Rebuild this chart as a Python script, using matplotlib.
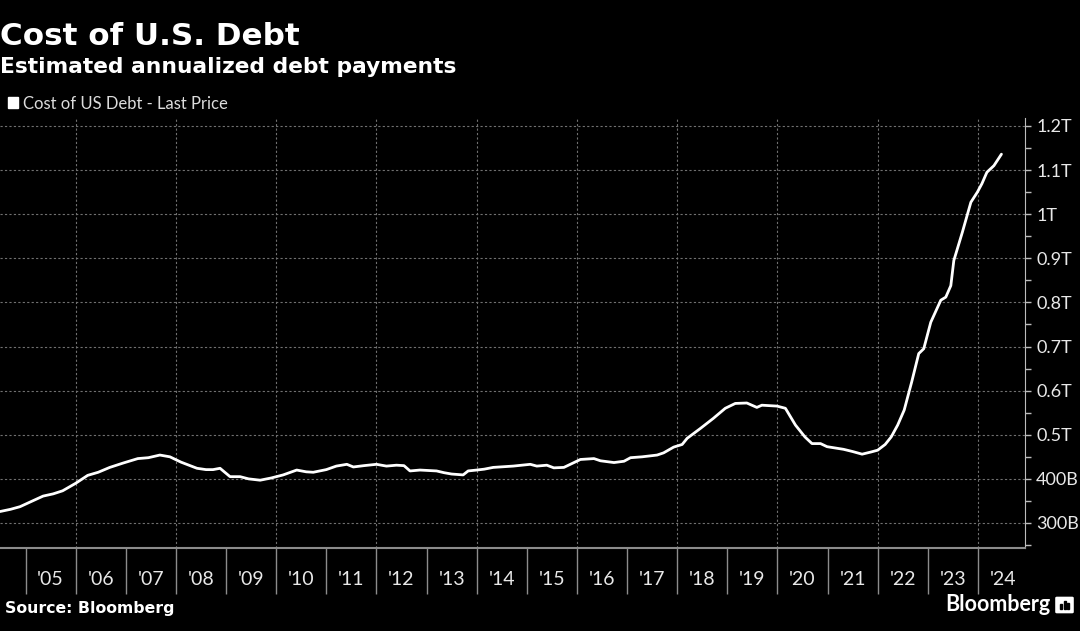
import matplotlib.pyplot as plt
from matplotlib.patches import Rectangle, FancyBboxPatch
from matplotlib.ticker import MultipleLocator

plt.rcParams['font.family'] = ['Lato', 'DejaVu Sans']

# estimated annualized cost of US debt, billions of dollars (decimal years)
years = [2004.49, 2004.70, 2004.89, 2005.10, 2005.35, 2005.55, 2005.74, 2006.00,
         2006.24, 2006.45, 2006.68, 2006.95, 2007.24, 2007.45, 2007.68, 2007.88,
         2008.10, 2008.42, 2008.60, 2008.74, 2008.88, 2009.08, 2009.28, 2009.45,
         2009.68, 2009.90, 2010.14, 2010.41, 2010.60, 2010.74, 2011.00, 2011.20,
         2011.41, 2011.54, 2011.75, 2012.00, 2012.20, 2012.40, 2012.55, 2012.67,
         2012.87, 2013.20, 2013.35, 2013.50, 2013.73, 2013.83, 2014.00, 2014.15,
         2014.33, 2014.73, 2015.07, 2015.20, 2015.40, 2015.54, 2015.74, 2016.07,
         2016.34, 2016.47, 2016.74, 2016.94, 2017.07, 2017.30, 2017.60, 2017.73,
         2017.93, 2018.10, 2018.20, 2018.46, 2018.72, 2018.96, 2019.16, 2019.39,
         2019.59, 2019.69, 2019.99, 2020.16, 2020.36, 2020.55, 2020.69, 2020.86,
         2020.99, 2021.32, 2021.50, 2021.69, 2021.87, 2022.00, 2022.15, 2022.27,
         2022.40, 2022.53, 2022.68, 2022.82, 2022.92, 2023.06, 2023.26, 2023.36,
         2023.46, 2023.52, 2023.69, 2023.86, 2023.99, 2024.08, 2024.18, 2024.32,
         2024.47]
cost_bn = [326, 331, 337, 348, 361, 366, 373, 390,
           408, 415, 426, 436, 446, 448, 454, 450,
           438, 424, 421, 421, 424, 405, 405, 400,
           397, 402, 409, 420, 416, 415, 421, 429,
           433, 427, 430, 433, 429, 431, 430, 418,
           420, 418, 414, 411, 409, 418, 420, 422,
           426, 429, 433, 429, 431, 425, 426, 444,
           446, 441, 437, 440, 448, 450, 454, 459,
           472, 478, 492, 514, 537, 560, 571, 572,
           562, 567, 565, 560, 522, 495, 480, 480,
           473, 467, 462, 456, 461, 465, 478, 495,
           522, 556, 620, 684, 695, 755, 805, 812,
           838, 895, 959, 1027, 1050, 1069, 1095, 1110,
           1136]

year_ticks = list(range(2005, 2025))
year_labels = ["'%02d" % (y % 100) for y in year_ticks]
y_ticks = [300, 400, 500, 600, 700, 800, 900, 1000, 1100, 1200]
y_labels = ['300B', '400B', '0.5T', '0.6T', '0.7T', '0.8T', '0.9T', '1T', '1.1T', '1.2T']

W, H = 1080, 631
fig = plt.figure(figsize=(10.8, 6.31), dpi=100, facecolor='black')
ax = fig.add_axes([0, 1 - 547.7 / H, 1025 / W, (547.7 - 118) / H])
ax.set_facecolor('black')

ax.plot(years, cost_bn, color='white', lw=2, solid_capstyle='round', zorder=3)
ax.set_xlim(2004.49, 2024.94)
ax.set_ylim(244, 1218)

for s in ['top', 'left']:
    ax.spines[s].set_visible(False)
ax.spines['right'].set_color('#bdbdbd')
ax.spines['bottom'].set_color('#8c8c8c')
ax.spines['bottom'].set_linewidth(1.5)

# y axis on the right
ax.yaxis.tick_right()
ax.set_yticks(y_ticks, y_labels)
ax.yaxis.set_minor_locator(MultipleLocator(50))
ax.tick_params(axis='y', which='both', direction='out', length=4, width=1,
               color='#bdbdbd', labelcolor='#e8e8e8', labelsize=13, pad=4)
ax.yaxis.grid(True, which='major', color='#707070', linestyle=(0, (2, 2)), lw=0.8)

# x axis: separators at year starts, labels at mid-year
ax.set_xticks(year_ticks)
ax.set_xticks([y + 0.5 for y in year_ticks], year_labels, minor=True)
ax.tick_params(axis='x', which='major', direction='out', length=33, width=1,
               color='#8c8c8c', labelbottom=False)
ax.tick_params(axis='x', which='minor', length=0, pad=17, labelsize=14,
               labelcolor='#e8e8e8')
for yr in year_ticks[1::2]:
    ax.axvline(yr, color='#707070', linestyle=(0, (2, 2)), lw=0.8, zorder=1)

# titles and legend
fig.text(0 / W, 1 - 45 / H, 'Cost of U.S. Debt', color='white', fontsize=22.3,
         fontweight='bold', family='DejaVu Sans', va='baseline', ha='left')
fig.text(0 / W, 1 - 73 / H, 'Estimated annualized debt payments', color='white',
         fontsize=15.7, fontweight='bold', family='DejaVu Sans', va='baseline', ha='left')
fig.patches.append(Rectangle((8 / W, 1 - 108 / H), 10 / W, 11 / H,
                             transform=fig.transFigure, color='white'))
fig.text(23 / W, 1 - 109 / H, 'Cost of US Debt - Last Price', color='#dcdcdc',
         fontsize=12, va='baseline', ha='left')

# footer
fig.text(5 / W, 1 - 613 / H, 'Source: Bloomberg', color='white', fontsize=11.3,
         fontweight='bold', family='DejaVu Sans', va='baseline', ha='left')
fig.text(1050 / W, 1 - 611 / H, 'Bloomberg', color='white', fontsize=15.5,
         fontweight='bold', va='baseline', ha='right')
fig.patches.append(FancyBboxPatch((1057 / W, 1 - 612 / H), 15 / W, 14 / H,
                                  boxstyle='round,pad=0.001', transform=fig.transFigure,
                                  color='white'))
for i, h in enumerate([5, 8, 6]):
    fig.patches.append(Rectangle(((1060 + i * 3.5) / W, 1 - 609 / H), 2 / W, h / H,
                                 transform=fig.transFigure, color='black'))

fig.savefig('out.png', dpi=100, facecolor='black')
